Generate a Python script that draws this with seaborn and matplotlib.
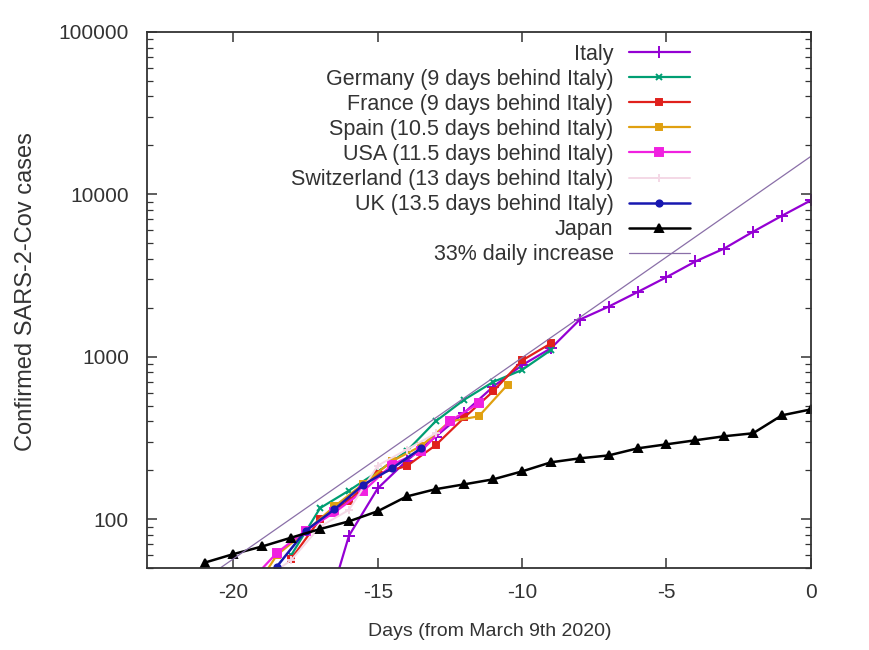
import matplotlib
matplotlib.use('Agg')
import matplotlib.pyplot as plt
import matplotlib.ticker as mticker
import seaborn as sns
import pandas as pd

# Days relative to March 9th 2020 (other countries already shifted behind Italy)
italy_days = [-17, -16, -15, -14, -13, -12, -11, -10, -9, -8, -7, -6, -5, -4, -3, -2, -1, 0]
italy_cases = [20, 79, 155, 229, 322, 453, 655, 888, 1128, 1694, 2036, 2502, 3089, 3858, 4636, 5883, 7375, 9172]

germany_days = [-18, -17, -16, -15, -14, -13, -12, -11, -10, -9]
germany_cases = [60, 117, 150, 196, 262, 400, 545, 700, 830, 1100]

france_days = [-18, -17, -16, -15, -14, -13, -12, -11, -10, -9]
france_cases = [57, 100, 130, 191, 212, 285, 423, 613, 949, 1209]

spain_days = [-19.5, -18.5, -17.5, -16.5, -15.5, -14.5, -13.5, -12.5, -11.5, -10.5]
spain_cases = [32, 60, 84, 120, 165, 228, 282, 400, 430, 674]

usa_days = [-19.5, -18.5, -17.5, -16.5, -15.5, -14.5, -13.5, -12.5, -11.5]
usa_cases = [40, 62, 85, 110, 149, 217, 262, 402, 518]

swiss_days = [-19, -18, -17, -16, -15, -14, -13]
swiss_cases = [42, 56, 90, 114, 214, 268, 337]

uk_days = [-19.5, -18.5, -17.5, -16.5, -15.5, -14.5, -13.5]
uk_cases = [40, 51, 85, 115, 163, 206, 273]

japan_days = [-21, -20, -19, -18, -17, -16, -15, -14, -13, -12, -11,
              -10, -9, -8, -7, -6, -5, -4, -3, -2, -1, 0]
japan_cases = [54, 61, 68, 77, 87, 97, 112, 138, 153, 164, 176,
               197, 224, 237, 247, 273, 289, 306, 324, 338, 436, 474]

# 33% daily increase reference line (straight in log space)
trend_days = [-21, 0]
trend_cases = [42.9, 17100]

labels = ['Italy', 'Germany (9 days behind Italy)', 'France (9 days behind Italy)',
          'Spain (10.5 days behind Italy)', 'USA (11.5 days behind Italy)',
          'Switzerland (13 days behind Italy)', 'UK (13.5 days behind Italy)',
          'Japan', '33% daily increase']

sns.set_theme(style='ticks')
plt.rcParams['font.family'] = ['Liberation Sans', 'DejaVu Sans']
plt.rcParams['axes.unicode_minus'] = False

fig = plt.figure(figsize=(8.69, 6.5), dpi=100)
ax = fig.add_axes([0.169, 0.126, 0.764, 0.825])

series = [
    (italy_days, italy_cases, '#9400d3', '+', 9, 1.6),
    (germany_days, germany_cases, '#009e73', 'x', 5, 1.6),
    (france_days, france_cases, '#e0201c', 's', 5, 1.6),
    (spain_days, spain_cases, '#e0a010', 's', 5, 1.6),
    (usa_days, usa_cases, '#f020e0', 's', 5.5, 1.6),
    (swiss_days, swiss_cases, '#f4d8e6', '+', 6, 1.4),
    (uk_days, uk_cases, '#1818b0', 'o', 4.5, 1.8),
    (japan_days, japan_cases, 'black', '^', 6, 1.8),
]

for (d, c, col, mk, ms, lw), lab in zip(series, labels):
    df = pd.DataFrame({'day': d, 'cases': c})
    sns.lineplot(data=df, x='day', y='cases', ax=ax, color=col, marker=mk,
                 markersize=ms, linewidth=lw, markeredgewidth=1.4,
                 markeredgecolor=col, label=lab)

trend = pd.DataFrame({'day': trend_days, 'cases': trend_cases})
sns.lineplot(data=trend, x='day', y='cases', ax=ax, color='#8a6fa8',
             linewidth=0.9, label=labels[-1])

ax.set_yscale('log')
ax.set_xlim(-23, 0)
ax.set_ylim(50, 100000)
ax.set_xticks([-20, -15, -10, -5, 0])
ax.set_yticks([100, 1000, 10000, 100000])
ax.yaxis.set_major_formatter(mticker.FuncFormatter(lambda v, p: f'{int(v)}'))
ax.yaxis.set_minor_locator(mticker.LogLocator(base=10, subs=range(2, 10)))
ax.yaxis.set_minor_formatter(mticker.NullFormatter())

ax.tick_params(which='major', direction='in', length=7, width=1.1, top=True, right=True,
               labelsize=15, colors='#333333', pad=13)
ax.tick_params(which='minor', direction='in', length=4, width=0.9, top=True, right=True,
               colors='#333333')
ax.tick_params(axis='x', which='major', pad=11)
for s in ax.spines.values():
    s.set_color('#333333')
    s.set_linewidth(1.3)

ax.set_xlabel('Days (from March 9th 2020)', fontsize=14, color='#333333')
ax.set_ylabel('Confirmed SARS-2-Cov cases', fontsize=17, color='#333333')
ax.xaxis.set_label_coords(0.517, -0.103)
ax.yaxis.set_label_coords(-0.166, 0.515)

leg = ax.legend(loc='upper right', bbox_to_anchor=(0.818, 0.978), markerfirst=False,
                frameon=False, fontsize=15.5, handlelength=2.85, handletextpad=0.7,
                labelspacing=0.19, borderaxespad=0, borderpad=0)
for t in leg.get_texts():
    t.set_color('#333333')

fig.savefig('out.png', dpi=100)
